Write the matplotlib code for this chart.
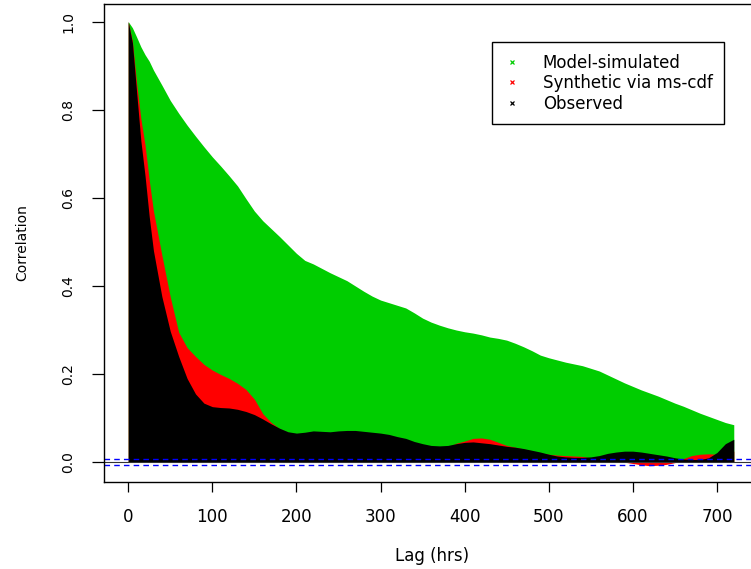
#!/usr/bin/env python3

import numpy as np
import matplotlib
matplotlib.use("Agg")
import matplotlib.pyplot as plt
from matplotlib.lines import Line2D

lags = [0, 5, 10, 15, 20, 25, 30] + list(range(40, 721, 10))

model = [1.000, 0.986, 0.965, 0.943, 0.925, 0.910, 0.890, 0.856, 0.821, 0.792,
         0.765, 0.740, 0.716, 0.693, 0.672, 0.650, 0.627, 0.598, 0.570, 0.548,
         0.530, 0.512, 0.493, 0.474, 0.458, 0.450, 0.440, 0.430, 0.421, 0.412,
         0.400, 0.388, 0.377, 0.368, 0.362, 0.356, 0.350, 0.339, 0.327, 0.318,
         0.311, 0.305, 0.300, 0.296, 0.293, 0.289, 0.284, 0.281, 0.277, 0.270,
         0.262, 0.253, 0.243, 0.237, 0.232, 0.227, 0.223, 0.219, 0.213, 0.207,
         0.198, 0.189, 0.180, 0.172, 0.164, 0.157, 0.150, 0.142, 0.134, 0.127,
         0.119, 0.111, 0.104, 0.097, 0.090, 0.085]

synthetic = [1.000, 0.955, 0.860, 0.780, 0.720, 0.640, 0.570, 0.470, 0.375, 0.295,
             0.260, 0.240, 0.222, 0.209, 0.199, 0.190, 0.179, 0.165, 0.143, 0.110,
             0.090, 0.076, 0.068, 0.062, 0.064, 0.067, 0.066, 0.065, 0.066, 0.067,
             0.067, 0.066, 0.064, 0.062, 0.059, 0.054, 0.050, 0.043, 0.038, 0.034,
             0.033, 0.034, 0.043, 0.048, 0.054, 0.055, 0.052, 0.045, 0.038, 0.034,
             0.030, 0.026, 0.021, 0.018, 0.016, 0.015, 0.014, 0.013, 0.010, 0.008,
             0.005, 0.002, 0.000, -0.003, -0.006, -0.008, -0.007, -0.005, -0.001, 0.008,
             0.015, 0.018, 0.019, 0.018, 0.020, 0.025]

observed = [1.000, 0.952, 0.840, 0.730, 0.650, 0.557, 0.480, 0.376, 0.297, 0.240,
            0.190, 0.155, 0.134, 0.126, 0.124, 0.123, 0.120, 0.115, 0.108, 0.098,
            0.087, 0.077, 0.069, 0.066, 0.068, 0.071, 0.070, 0.069, 0.071, 0.072,
            0.072, 0.070, 0.068, 0.066, 0.063, 0.058, 0.054, 0.047, 0.042, 0.038,
            0.037, 0.038, 0.042, 0.045, 0.046, 0.044, 0.042, 0.039, 0.036, 0.034,
            0.031, 0.027, 0.023, 0.018, 0.014, 0.012, 0.011, 0.011, 0.012, 0.015,
            0.020, 0.023, 0.025, 0.025, 0.023, 0.020, 0.017, 0.014, 0.010, 0.007,
            0.006, 0.006, 0.010, 0.022, 0.042, 0.052]

conf_limit = 0.007

labels = ["Model-simulated", "Synthetic via ms-cdf", "Observed"]
colors = ["#00cd00", "#ff0000", "#000000"]


def main():
    fig = plt.figure(figsize=(7.51, 5.69), dpi=100)
    ax = fig.add_axes([104 / 751, 1 - 482 / 569, 654 / 751, 478 / 569])

    for vals, c in zip([model, synthetic, observed], colors):
        ax.fill_between(lags, 0, vals, color=c, lw=0)

    ax.axhline(0, color="#333333", lw=0.8)
    for h in (conf_limit, -conf_limit):
        ax.axhline(h, color="blue", lw=1.0, ls=(0, (4, 3)))

    ax.set_xlim(-28.8, 748.8)
    ax.set_ylim(-0.045, 1.040)

    ax.set_xticks(range(0, 701, 100))
    yt = np.arange(0, 1.01, 0.2)
    ax.set_yticks(yt)
    ax.set_yticklabels(["%.1f" % v for v in yt])
    ax.tick_params(axis="x", length=7.5, width=0.9, pad=11, labelsize=12)
    ax.tick_params(axis="y", length=8.5, width=0.9, pad=12, labelsize=10,
                   labelrotation=90)
    for lbl in ax.get_yticklabels():
        lbl.set_va("center")

    for s in ax.spines.values():
        s.set_linewidth(1.0)
        s.set_color("black")

    fig.text(432 / 751, 1 - 556 / 569, "Lag (hrs)", ha="center", va="center",
             fontsize=12)
    fig.text(22 / 751, 1 - 243 / 569, "Correlation", ha="center", va="center",
             rotation=90, fontsize=10)

    handles = [Line2D([], [], ls="none", marker="x", color=c, markersize=3.5,
                      mew=0.9) for c in colors]
    leg = ax.legend(handles, labels, loc="upper left",
                    bbox_to_anchor=(492 / 751, 1 - 42 / 569),
                    bbox_transform=fig.transFigure, fancybox=False,
                    edgecolor="black", framealpha=1, fontsize=12,
                    borderpad=0.7, labelspacing=0.15, handlelength=1.0,
                    handletextpad=1.35, borderaxespad=0)
    leg.get_frame().set_linewidth(1.0)

    fig.savefig("out.png", dpi=100)


if __name__ == "__main__":
    main()
